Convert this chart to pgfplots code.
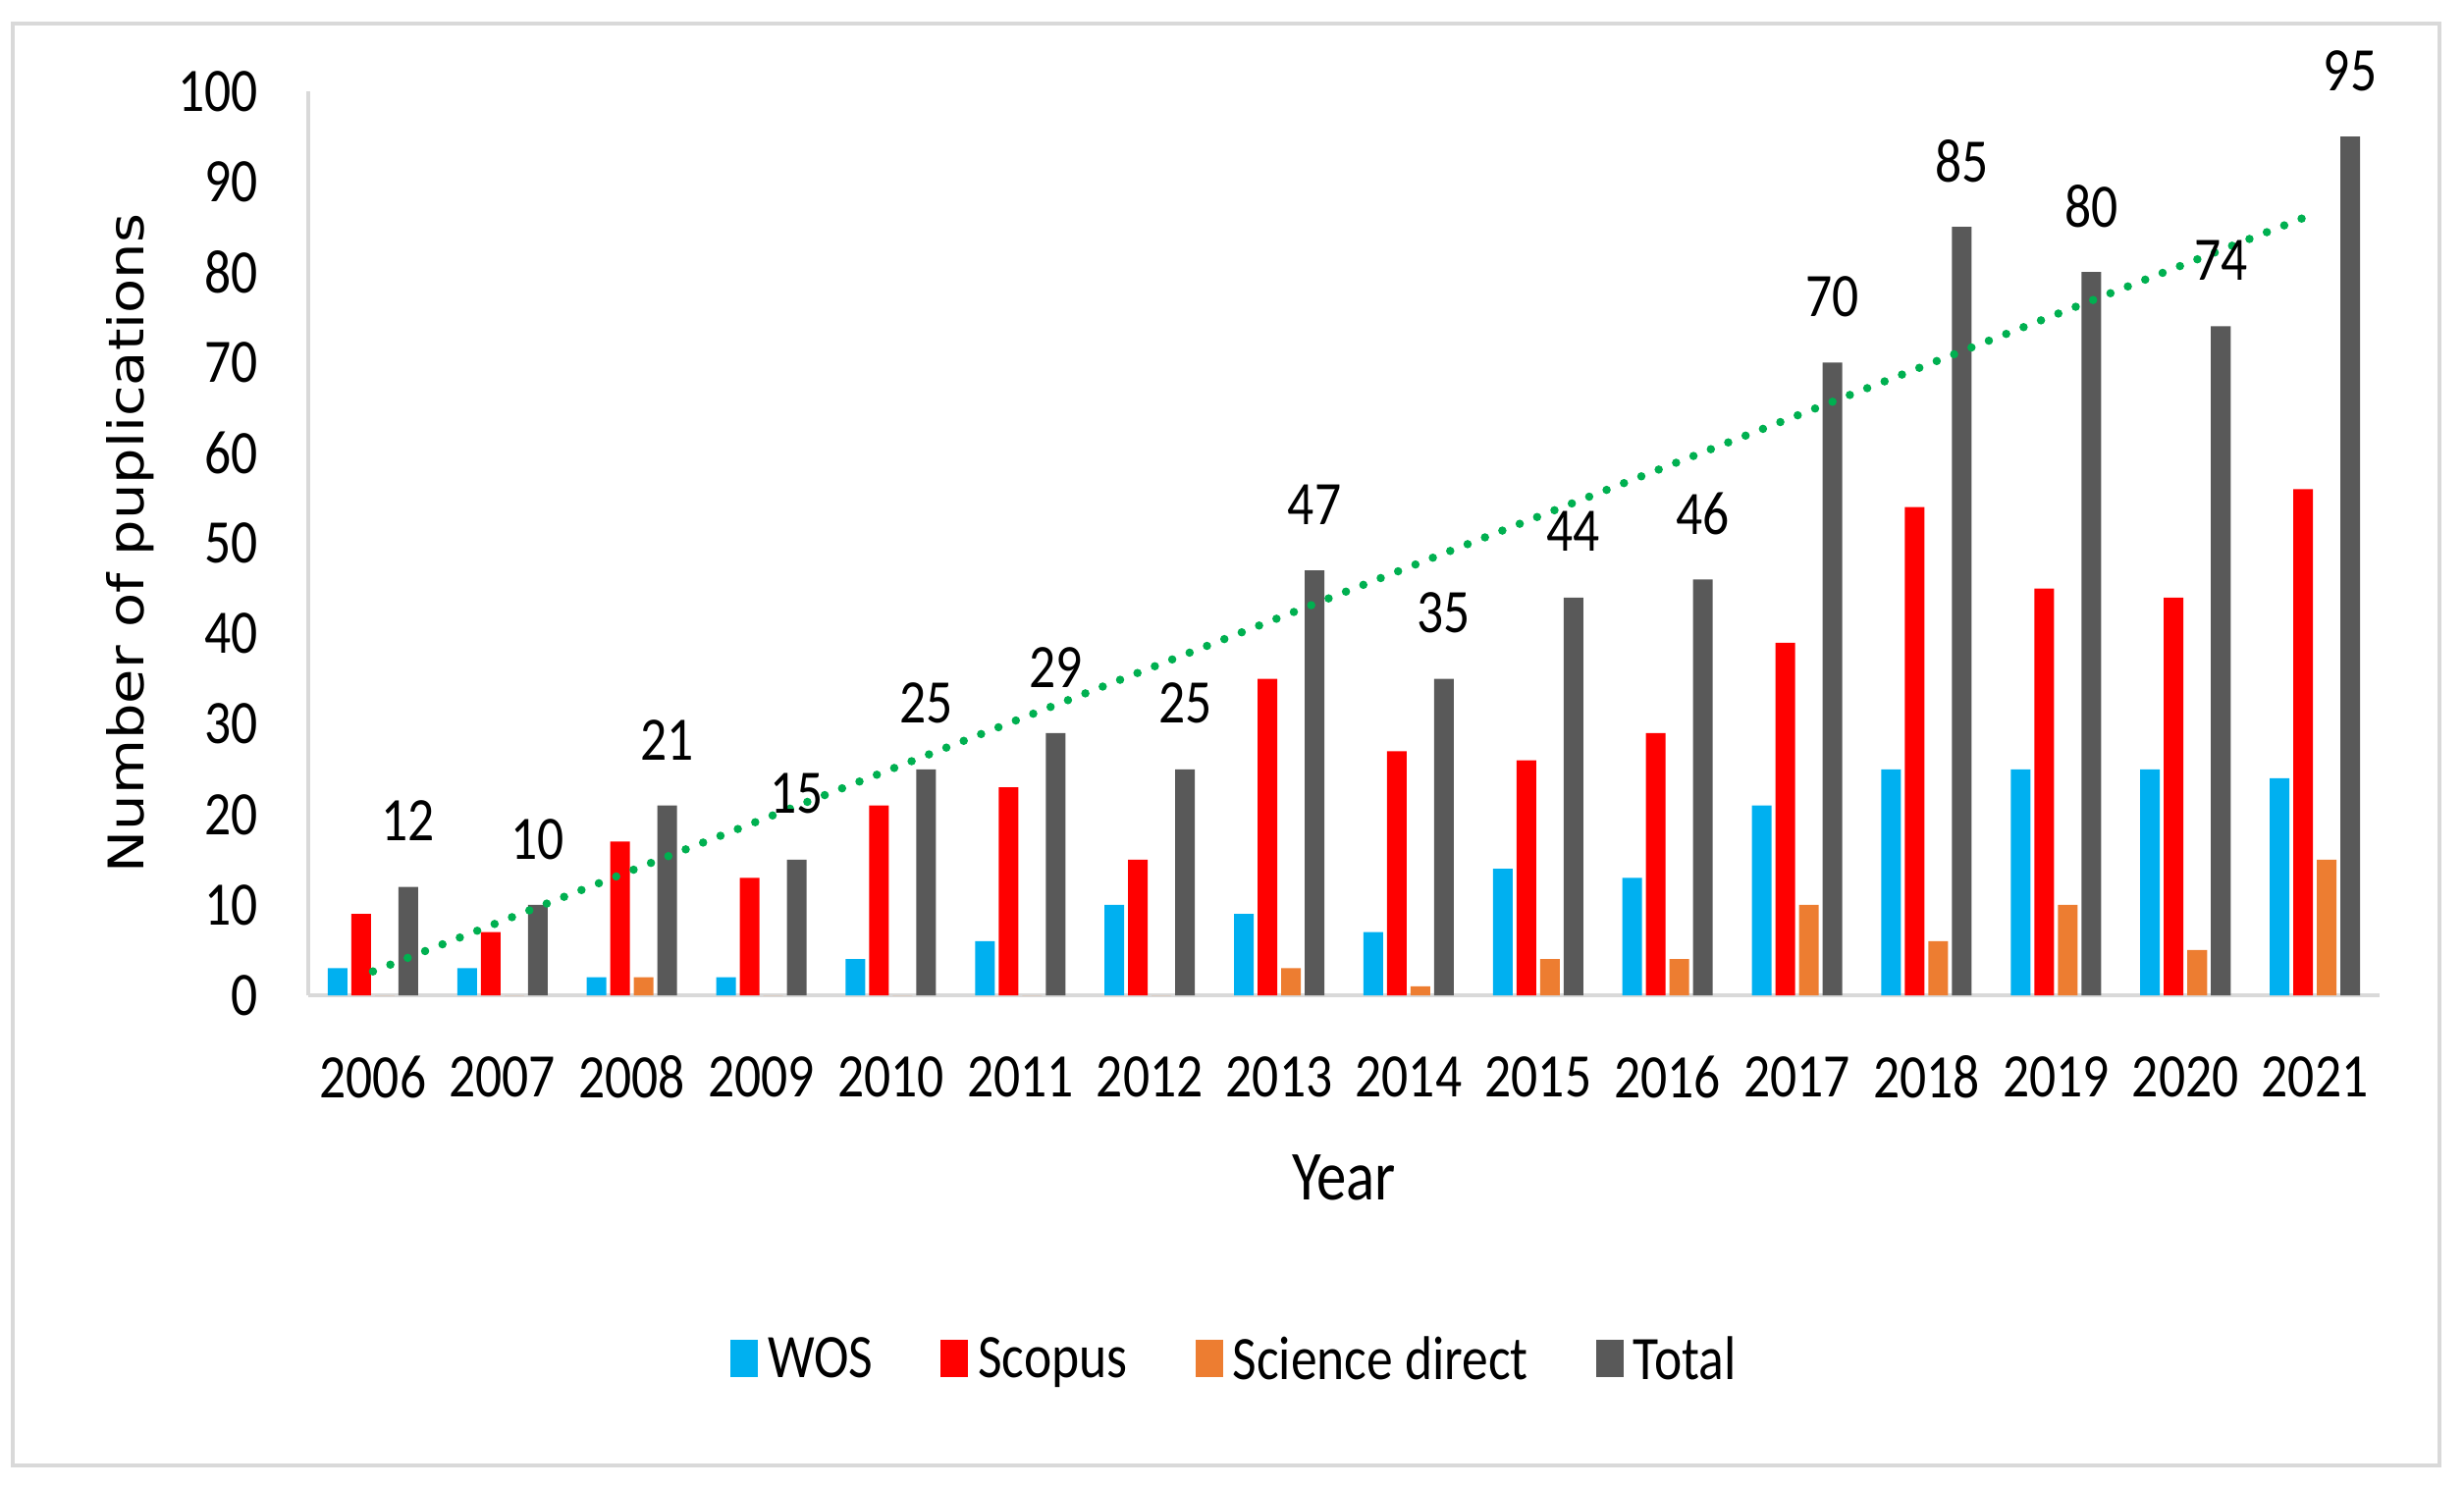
\documentclass[border=0pt]{standalone}
\usepackage{fontspec}
\setmainfont{Carlito}[FakeStretch=0.85]
\newfontfamily\ylabfont{DejaVu Sans}[FakeStretch=1.15]
\usepackage{pgfplots}
\pgfplotsset{compat=1.18}

\definecolor{wos}{HTML}{00B0F0}
\definecolor{scopus}{HTML}{FF0000}
\definecolor{scidir}{HTML}{ED7D31}
\definecolor{total}{HTML}{595959}
\definecolor{trend}{HTML}{00B050}
\definecolor{axgray}{HTML}{D9D9D9}

\pgfplotsset{sqlegend/.style={legend image code/.code={\fill[##1] (0pt,-3.2pt) rectangle (5.6pt,4.4pt);}}}

\begin{document}
\begin{tikzpicture}
% page size and the light frame round the chart
\path[use as bounding box] (-62.8pt,-100.2pt) rectangle (439.2pt,202.8pt);
\draw[axgray, line width=0.8pt] (-60.2pt,-95.8pt) rectangle (434.2pt,198pt);

\begin{axis}[
    at={(0,0)}, anchor=south west,
    scale only axis,
    width=422pt, height=184.2pt,
    xmin=-0.5, xmax=15.5,
    ymin=0, ymax=100,
    ybar, bar width=0.152,
    clip=false,
    xtick={0,...,15},
    xticklabels={2006,2007,2008,2009,2010,2011,2012,2013,2014,2015,2016,2017,2018,2019,2020,2021},
    ytick={0,10,...,100},
    axis x line*=bottom, axis y line*=left,
    axis line style={draw=axgray, line width=0.8pt, -},
    major tick length=0pt,
    tick style={draw=none},
    /pgf/number format/assume math mode=true,
    tick label style={font=\fontsize{12.6}{14}\selectfont, text=black},
    xticklabel style={anchor=center, yshift=-16.6pt},
    yticklabel style={anchor=east, inner sep=0pt, xshift=-10pt},
    xlabel={Year},
    every axis x label/.style={at={(rel axis cs:0.5,-0.202)}, anchor=center, font=\fontsize{14.3}{16}\selectfont},
    ylabel={Number of puplications},
    every axis y label/.style={at={(rel axis cs:-0.0858,0.5)}, rotate=90, anchor=center, font=\ylabfont\fontsize{10}{12}\selectfont},
    legend style={at={(0.449,-0.405)}, anchor=center, draw=none, fill=none,
        legend columns=-1, font=\fontsize{12.6}{14}\selectfont,
        /tikz/every even column/.append style={column sep=11.8pt}},
]

% WOS
\addplot[fill=wos, draw=none, bar shift=-0.273, sqlegend] coordinates {
    (0,3) (1,3) (2,2) (3,2) (4,4) (5,6) (6,10) (7,9)
    (8,7) (9,14) (10,13) (11,21) (12,25) (13,25) (14,25) (15,24)
};
\addlegendentry{WOS}

% Scopus
\addplot[fill=scopus, draw=none, bar shift=-0.091, sqlegend] coordinates {
    (0,9) (1,7) (2,17) (3,13) (4,21) (5,23) (6,15) (7,35)
    (8,27) (9,26) (10,29) (11,39) (12,54) (13,45) (14,44) (15,56)
};
\addlegendentry{Scopus}

% Science direct
\addplot[fill=scidir, draw=none, bar shift=0.091, sqlegend] coordinates {
    (0,0) (1,0) (2,2) (3,0) (4,0) (5,0) (6,0) (7,3)
    (8,1) (9,4) (10,4) (11,10) (12,6) (13,10) (14,5) (15,15)
};
\addlegendentry{Science direct}

% Total, with its values above the bars
\addplot[fill=total, draw=none, bar shift=0.273, sqlegend,
    nodes near coords,
    every node near coord/.append style={anchor=center, yshift=13.4pt, text=black,
        font=\fontsize{12.6}{14}\selectfont}] coordinates {
    (0,12) (1,10) (2,21) (3,15) (4,25) (5,29) (6,25) (7,47)
    (8,35) (9,44) (10,46) (11,70) (12,85) (13,80) (14,74) (15,95)
};
\addlegendentry{Total}

% linear trend of Total
\addplot[forget plot, sharp plot, draw=trend, line width=1.7pt, line cap=round,
    dash pattern=on 0pt off 3.8pt] coordinates {(0,2.64) (15,86.49)};

\end{axis}
\end{tikzpicture}
\end{document}
